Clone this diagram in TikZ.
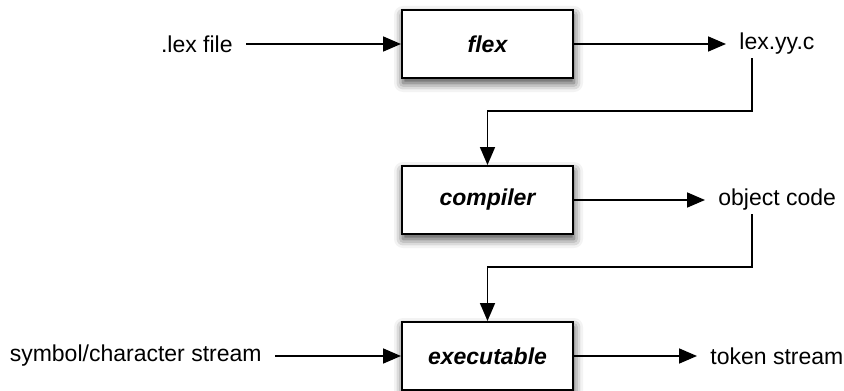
\documentclass[tikz,border=0pt]{standalone}
\usepackage{fontspec}
\setmainfont{Liberation Sans}
\usepackage{xcolor}
\usepackage{tikz}
\usetikzlibrary{positioning,arrows.meta,shadows.blur}

\begin{document}
\begin{tikzpicture}[
    x=0.5pt, y=-0.5pt,
    stage/.style={
        draw,
        line width=1pt,
        fill=white,
        minimum width=85.5pt,
        minimum height=34pt,
        font=\fontsize{11.5}{13}\selectfont\bfseries\itshape,
        blur shadow={shadow xshift=0.5pt, shadow yshift=-2.5pt,
            shadow blur radius=4.5pt, shadow opacity=75}
    },
    label/.style={
        inner xsep=6.5pt,
        inner ysep=1.5pt,
        font=\fontsize{11.5}{13}\selectfont
    },
    arrow/.style={
        -{Triangle[length=9pt,width=7.5pt]},
        line width=0.85pt
    }
]

\useasboundingbox (0,0) rectangle (844,390);

% the three stages
\node[stage] (flex) at (487.5,44) {flex};

\node[stage] (compiler) at (487.5,200) {compiler};

\node[stage] (executable) at (487.5,356) {executable};

% inputs and outputs
\node[label, anchor=east] (lexfile) at (246,44) {.lex file};

\node[label, anchor=west] (lexyyc) at (726,44) {lex.yy.c};

\node[label, anchor=west] (objcode) at (705,200) {object code};

\node[label, anchor=east] (symstream) at (275,356) {symbol/character stream};

\node[label, anchor=west] (tokstream) at (697,356) {token stream};

% bends of the feedback lines
\coordinate (bendA) at (752,111);
\coordinate (bendB) at (752,267);

\draw[arrow] (lexfile) -- (flex);

\draw[arrow] (flex) -- (lexyyc);

\draw[arrow] (bendA |- lexyyc.south) -- (bendA) -| (compiler.north);

\draw[arrow] (compiler) -- (objcode);

\draw[arrow] (bendB |- objcode.south) -- (bendB) -| (executable.north);

\draw[arrow] (symstream) -- (executable);

\draw[arrow] (executable) -- (tokstream);

\end{tikzpicture}
\end{document}
